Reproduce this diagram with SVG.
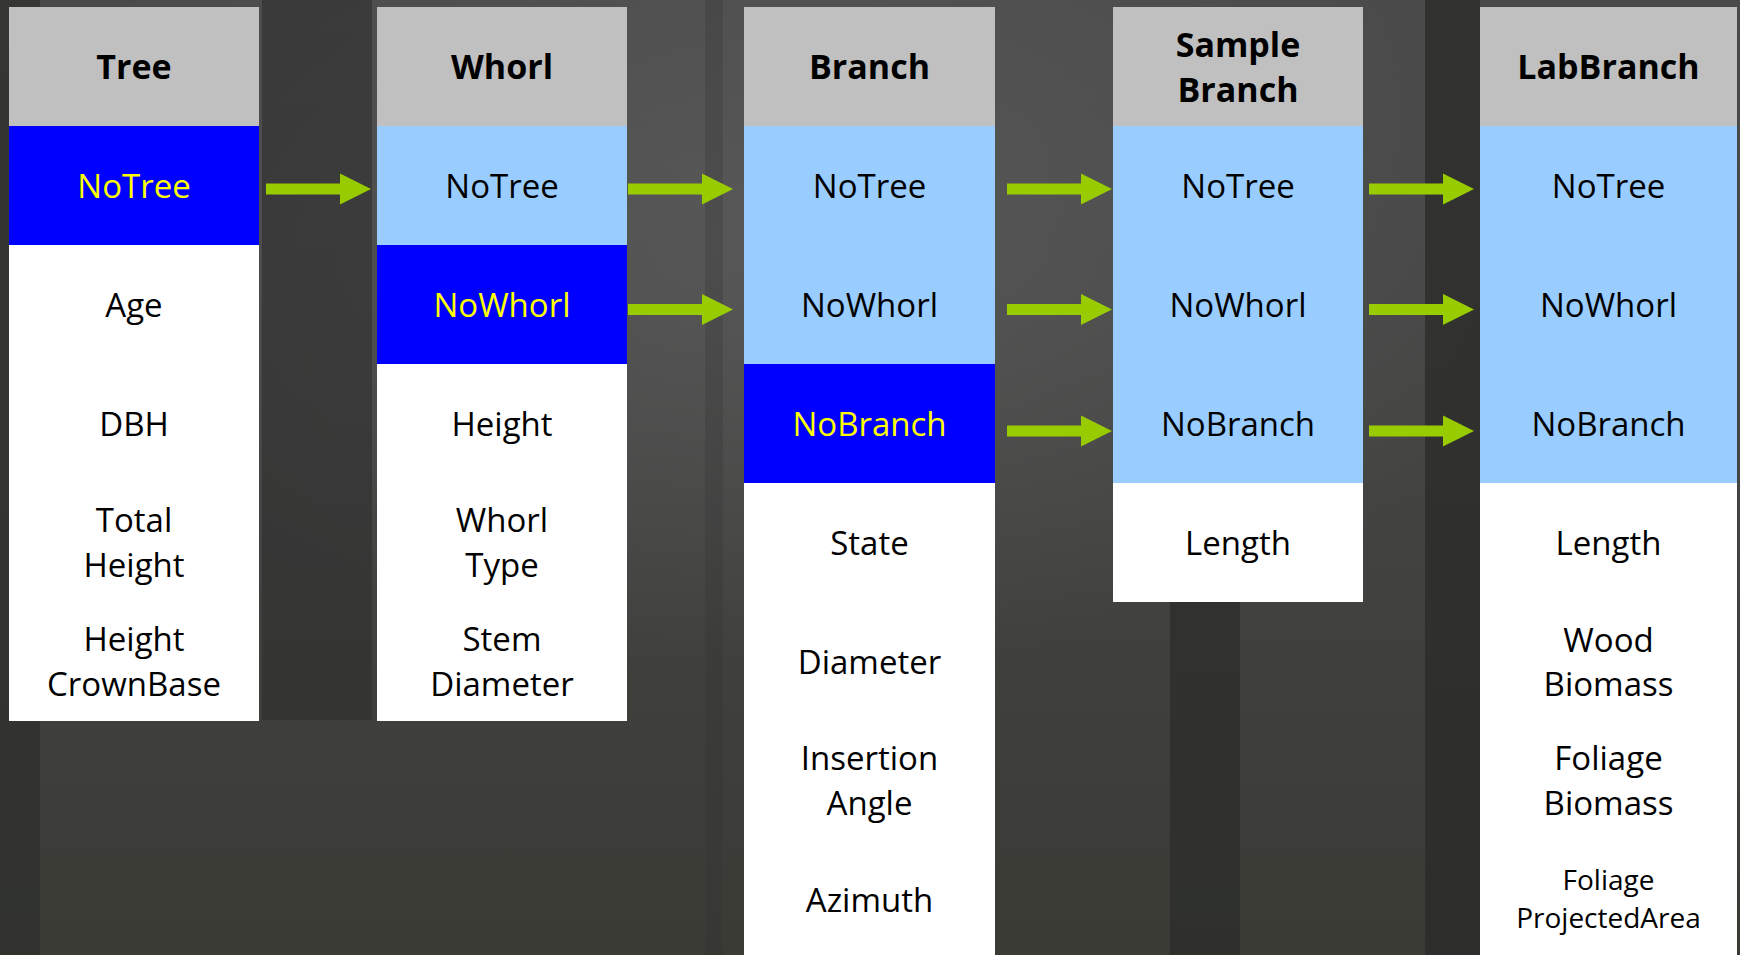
<svg xmlns="http://www.w3.org/2000/svg" width="1740" height="955" viewBox="0 0 1740 955">
  <defs>
    <linearGradient id="bg" x1="0" y1="0" x2="0" y2="1">
      <stop offset="0" stop-color="#4a4a4a"/>
      <stop offset="0.45" stop-color="#444443"/>
      <stop offset="1" stop-color="#3a3b35"/>
    </linearGradient>
    <radialGradient id="glow" cx="0.45" cy="0.25" r="0.45">
      <stop offset="0" stop-color="#666" stop-opacity="0.55"/>
      <stop offset="1" stop-color="#666" stop-opacity="0"/>
    </radialGradient>
    <marker id="head" markerUnits="userSpaceOnUse" markerWidth="32" markerHeight="32" viewBox="0 0 32 32" refX="0" refY="16" orient="auto">
      <path d="M0,0.5 L31,16 L0,31.5 Z" fill="#99cc00"/>
    </marker>
    <style>
      .hdr { fill: #c0c0c0; }
      .key { fill: #0000ff; }
      .fk { fill: #99ccff; }
      .att { fill: #ffffff; }
      text { font-family: "Open Sans", "Noto Sans", "DejaVu Sans", sans-serif; text-anchor: middle; font-size: 33px; fill: #000; }
      .title { font-weight: bold; font-size: 34px; }
      .pk { fill: #ffff00; }
      .small { font-size: 28px; }
      .arrow { stroke: #99cc00; stroke-width: 11; fill: none; marker-end: url(#head); }
    </style>
  </defs>

  <!-- background (forest photo approximation) -->
  <g id="background">
    <rect x="0" y="0" width="1740" height="955" fill="url(#bg)"/>
    <rect x="0" y="0" width="1740" height="955" fill="url(#glow)"/>
    <rect x="0" y="0" width="40" height="955" fill="#2e2f2c" opacity="0.7"/>
    <rect x="262" y="0" width="110" height="720" fill="#2f2f2f" opacity="0.6"/>
    <rect x="705" y="0" width="18" height="955" fill="#2e2e2e" opacity="0.25"/>
    <rect x="1170" y="600" width="70" height="355" fill="#2b2c29" opacity="0.7"/>
    <rect x="1425" y="0" width="55" height="955" fill="#2a2a28" opacity="0.75"/>
  </g>

  <g id="node-tree">
    <rect class="hdr" x="9" y="7" width="250" height="119"/>
    <rect class="key" x="9" y="126" width="250" height="119"/>
    <rect class="att" x="9" y="245" width="250" height="476"/>
    <text class="title" x="134" y="79">Tree</text>
    <text class="pk" x="134" y="198">NoTree</text>
    <text x="134" y="317">Age</text>
    <text x="134" y="436">DBH</text>
    <text x="134" y="532">Total</text>
    <text x="134" y="577">Height</text>
    <text x="134" y="651">Height</text>
    <text x="134" y="696">CrownBase</text>
  </g>

  <g id="node-whorl">
    <rect class="hdr" x="377" y="7" width="250" height="119"/>
    <rect class="fk" x="377" y="126" width="250" height="119"/>
    <rect class="key" x="377" y="245" width="250" height="119"/>
    <rect class="att" x="377" y="364" width="250" height="357"/>
    <text class="title" x="502" y="79">Whorl</text>
    <text x="502" y="198">NoTree</text>
    <text class="pk" x="502" y="317">NoWhorl</text>
    <text x="502" y="436">Height</text>
    <text x="502" y="532">Whorl</text>
    <text x="502" y="577">Type</text>
    <text x="502" y="651">Stem</text>
    <text x="502" y="696">Diameter</text>
  </g>

  <g id="node-branch">
    <rect class="hdr" x="744" y="7" width="251" height="119"/>
    <rect class="fk" x="744" y="126" width="251" height="238"/>
    <rect class="key" x="744" y="364" width="251" height="119"/>
    <rect class="att" x="744" y="483" width="251" height="480"/>
    <text class="title" x="869.5" y="79">Branch</text>
    <text x="869.5" y="198">NoTree</text>
    <text x="869.5" y="317">NoWhorl</text>
    <text class="pk" x="869.5" y="436">NoBranch</text>
    <text x="869.5" y="555">State</text>
    <text x="869.5" y="674">Diameter</text>
    <text x="869.5" y="770">Insertion</text>
    <text x="869.5" y="815">Angle</text>
    <text x="869.5" y="912">Azimuth</text>
  </g>

  <g id="node-samplebranch">
    <rect class="hdr" x="1113" y="7" width="250" height="119"/>
    <rect class="fk" x="1113" y="126" width="250" height="357"/>
    <rect class="att" x="1113" y="483" width="250" height="119"/>
    <text class="title" x="1238" y="57">Sample</text>
    <text class="title" x="1238" y="102">Branch</text>
    <text x="1238" y="198">NoTree</text>
    <text x="1238" y="317">NoWhorl</text>
    <text x="1238" y="436">NoBranch</text>
    <text x="1238" y="555">Length</text>
  </g>

  <g id="node-labbranch">
    <rect class="hdr" x="1480" y="7" width="257" height="119"/>
    <rect class="fk" x="1480" y="126" width="257" height="357"/>
    <rect class="att" x="1480" y="483" width="257" height="480"/>
    <text class="title" x="1608.5" y="79">LabBranch</text>
    <text x="1608.5" y="198">NoTree</text>
    <text x="1608.5" y="317">NoWhorl</text>
    <text x="1608.5" y="436">NoBranch</text>
    <text x="1608.5" y="555">Length</text>
    <text x="1608.5" y="652">Wood</text>
    <text x="1608.5" y="696">Biomass</text>
    <text x="1608.5" y="770">Foliage</text>
    <text x="1608.5" y="815">Biomass</text>
    <text class="small" x="1608.5" y="890">Foliage</text>
    <text class="small" x="1608.5" y="928">ProjectedArea</text>
  </g>

  <g id="connectors">
    <line class="arrow" x1="266" y1="189" x2="340" y2="189"/>
    <line class="arrow" x1="628" y1="189" x2="702" y2="189"/>
    <line class="arrow" x1="628" y1="309.5" x2="702" y2="309.5"/>
    <line class="arrow" x1="1007" y1="189" x2="1081" y2="189"/>
    <line class="arrow" x1="1007" y1="309.5" x2="1081" y2="309.5"/>
    <line class="arrow" x1="1007" y1="431" x2="1081" y2="431"/>
    <line class="arrow" x1="1369" y1="189" x2="1443" y2="189"/>
    <line class="arrow" x1="1369" y1="309.5" x2="1443" y2="309.5"/>
    <line class="arrow" x1="1369" y1="431" x2="1443" y2="431"/>
  </g>
</svg>
